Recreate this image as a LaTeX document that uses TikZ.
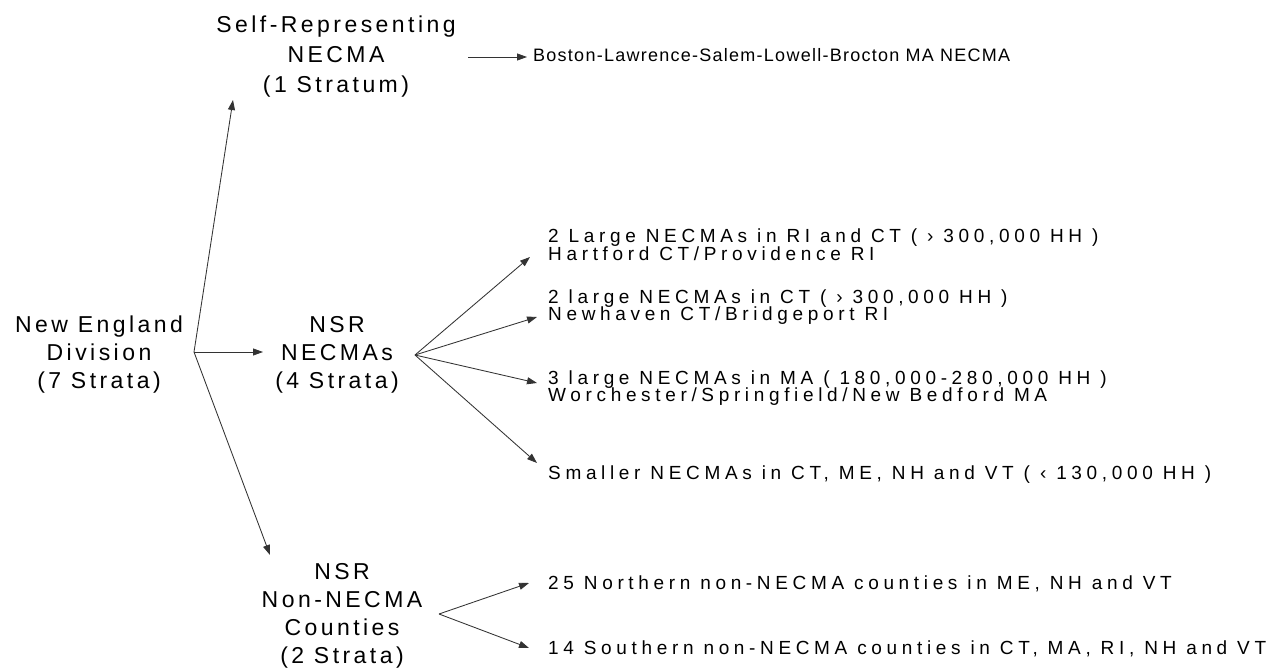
\documentclass[tikz,border=0pt]{standalone}
\usepackage{fontspec}
\setmainfont{Liberation Sans}
\newfontfamily\mainf{Liberation Sans}[LetterSpace=15]
\newfontfamily\bostf{Liberation Sans}[LetterSpace=7]
\newfontfamily\smallf{Liberation Sans}[LetterSpace=24.5]
\usetikzlibrary{arrows.meta}
\tikzset{
  big/.style={inner sep=0pt, anchor=base, font=\mainf\fontsize{23}{28}\selectfont},
  bigtop/.style={big, font=\mainf\fontsize{23}{30}\selectfont},
  bost/.style={inner sep=0pt, anchor=base west, font=\bostf\fontsize{18}{16}\selectfont},
  small/.style={inner sep=0pt, anchor=base west, font=\smallf\fontsize{19}{16}\selectfont},
  arr/.style={draw=black!80, line width=0.85pt, -{Triangle[length=10pt,width=7pt]}}
}
\begin{document}
\begin{tikzpicture}[x=1pt,y=-1pt]
\useasboundingbox[fill=white] (0,0) rectangle (1274,668);
% main nodes
\node[big] (ne) at (99,332) {\begin{tabular}[t]{@{}c@{}}New England\\Division\\(7 Strata)\end{tabular}};
\node[bigtop] (sr) at (336,33) {\begin{tabular}[t]{@{}c@{}}Self-Representing\\NECMA\\(1 Stratum)\end{tabular}};
\node[big] (nsr) at (337,332) {\begin{tabular}[t]{@{}c@{}}NSR\\NECMAs\\(4 Strata)\end{tabular}};
\node[big] (nn) at (342,579) {\begin{tabular}[t]{@{}c@{}}NSR\\Non-NECMA\\Counties\\(2 Strata)\end{tabular}};
% right texts
\node[bost] (boston) at (533,62) {Boston-Lawrence-Salem-Lowell-Brocton MA NECMA};
\node[small] (r1) at (548,243) {\begin{tabular}[t]{@{}l@{}}2 Large NECMAs in RI and CT ( › 300,000 HH )\\[-1pt]Hartford CT/Providence RI\end{tabular}};
\node[small] (r2) at (548,303) {\begin{tabular}[t]{@{}l@{}}2 large NECMAs in CT ( › 300,000 HH )\\[-1pt]Newhaven CT/Bridgeport RI\end{tabular}};
\node[small] (r3) at (548,384) {\begin{tabular}[t]{@{}l@{}}3 large NECMAs in MA ( 180,000-280,000 HH )\\[-1pt]Worchester/Springfield/New Bedford MA\end{tabular}};
\node[small] (r4) at (548,479) {Smaller NECMAs in CT, ME, NH and VT ( ‹ 130,000 HH )};
\node[small] (c1) at (548,589) {25 Northern non-NECMA counties in ME, NH and VT};
\node[small] (c2) at (548,654) {14 Southern non-NECMA counties in CT, MA, RI, NH and VT};
% branch points and arrow tips
\coordinate (A) at (194,352);
\coordinate (B) at (415,355);
\coordinate (C) at (439,614);
\coordinate (srout) at (468,57);
\coordinate (tsr) at (233,100);
\coordinate (tnsr) at (263,352);
\coordinate (tnn) at (270,555);
\coordinate (tb) at (527,57);
\coordinate (t1) at (530,257);
\coordinate (t2) at (537,317);
\coordinate (t3) at (537,383);
\coordinate (t4) at (537,463);
\coordinate (tc1) at (529,583);
\coordinate (tc2) at (529,648);
% connectors
\draw[arr] (A) -- (tsr);
\draw[arr] (A) -- (tnsr);
\draw[arr] (A) -- (tnn);
\draw[arr] (srout) -- (tb);
\draw[arr] (B) -- (t1);
\draw[arr] (B) -- (t2);
\draw[arr] (B) -- (t3);
\draw[arr] (B) -- (t4);
\draw[arr] (C) -- (tc1);
\draw[arr] (C) -- (tc2);
\end{tikzpicture}
\end{document}
